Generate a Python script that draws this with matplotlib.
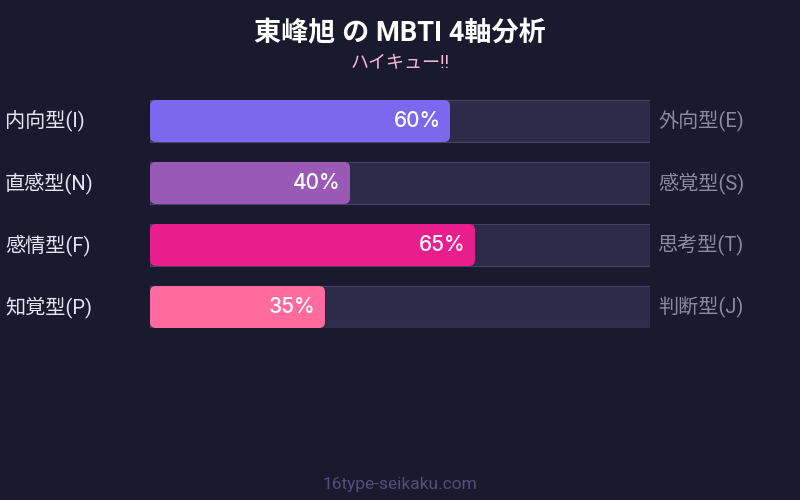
import matplotlib
matplotlib.use("Agg")
import matplotlib.pyplot as plt
from matplotlib.patches import FancyBboxPatch

plt.rcParams['font.family'] = ['Roboto', 'Noto Sans CJK JP', 'DejaVu Sans']

title = "東峰旭 の MBTI 4軸分析"
subtitle = "ハイキュー!!"
footer = "16type-seikaku.com"
left_labels = ["内向型(I)", "直感型(N)", "感情型(F)", "知覚型(P)"]
right_labels = ["外向型(E)", "感覚型(S)", "思考型(T)", "判断型(J)"]
values = [60, 40, 65, 35]
colors = ["#7b68ee", "#9b59b6", "#e91e8c", "#ff6b9d"]

bg = "#1a1a2e"
track = "#2d2b4a"
track_edge = "#45456a"

fig = plt.figure(figsize=(8, 5), dpi=100, facecolor=bg)

# bar area: x 150..650 px, rows 100..328 px
ax = fig.add_axes([150 / 800, (500 - 328) / 500, 500 / 800, 228 / 500])
ax.set_facecolor(bg)
ax.set_xlim(0, 100)
h = 42 / 62
ax.set_ylim(3 + h / 2, -h / 2)
ax.axis('off')

xpp = 100 / 500        # x units per px
ypp = 1 / 62           # y units per px
aspect = ypp / xpp

for i, v in enumerate(values):
    ax.barh(i, 100, height=h, color=track, edgecolor=track_edge, linewidth=0.8)
    bar = FancyBboxPatch((0, i - h / 2), v, h,
                         boxstyle="round,pad=0,rounding_size=%f" % (6 * xpp),
                         mutation_aspect=aspect, facecolor=colors[i],
                         edgecolor='none', zorder=3)
    ax.add_patch(bar)
    ax.text(v - 9 * xpp, i, f"{v}%", ha='right', va='center', color='white',
            fontsize=15, fontweight='medium', family=['Inter', 'DejaVu Sans'],
            zorder=4)
    ax.text(-145 * xpp, i, left_labels[i], ha='left', va='center',
            color='#e6e6f0', fontsize=14.5, clip_on=False)
    ax.text(100 + 8 * xpp, i, right_labels[i], ha='left', va='center',
            color='#8a8aa0', fontsize=14.5, clip_on=False)

fig.text(0.5, 1 - 34 / 500, title, ha='center', va='center', color='white',
         fontsize=19.5, fontweight='bold')
fig.text(0.5, 1 - 63 / 500, subtitle, ha='center', va='center',
         color='#f8bbd9', fontsize=13)
fig.text(0.5, 1 - 485 / 500, footer, ha='center', va='center',
         color='#50507a', fontsize=12.5)

fig.savefig("out.png", dpi=100, facecolor=bg)
